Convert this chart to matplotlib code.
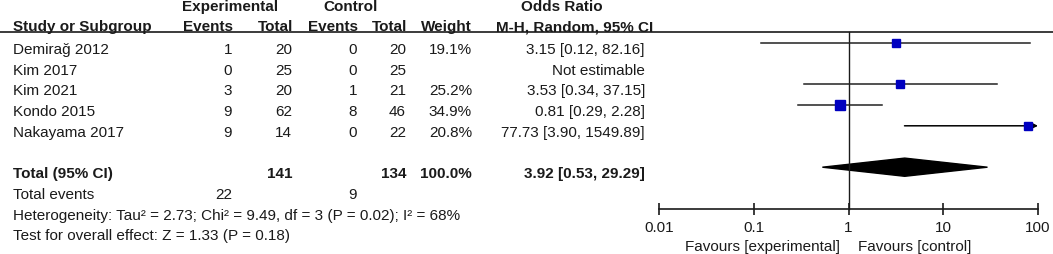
import numpy as np
import matplotlib.pyplot as plt
from matplotlib.patches import Polygon

plt.rcParams['font.family'] = ['Liberation Sans', 'DejaVu Sans']

# data
studies = ['Demirağ 2012', 'Kim 2017', 'Kim 2021', 'Kondo 2015', 'Nakayama 2017']
exp_events = [1, 0, 3, 9, 9]
exp_total = [20, 25, 20, 62, 14]
ctrl_events = [0, 0, 1, 8, 0]
ctrl_total = [20, 25, 21, 46, 22]
weights = [19.1, None, 25.2, 34.9, 20.8]
or_est = [3.15, None, 3.53, 0.81, 77.73]
ci_lo = [0.12, None, 0.34, 0.29, 3.90]
ci_hi = [82.16, None, 37.15, 2.28, 1549.89]

total_exp = 141
total_ctrl = 134
total_weight = 100.0
total_or = [3.92, 0.53, 29.29]
total_events = [22, 9]
heterogeneity = 'Heterogeneity: Tau² = 2.73; Chi² = 9.49, df = 3 (P = 0.02); I² = 68%'
overall = 'Test for overall effect: Z = 1.33 (P = 0.18)'
x_ticks = [0.01, 0.1, 1, 10, 100]
x_ticklabels = ['0.01', '0.1', '1', '10', '100']

W, H = 1053, 255
fs = 11
tc = '#1a1a1a'
row_h = 20.7


def rows_lim(row0_px):
    return ((H - row0_px) / row_h, -row0_px / row_h)


fig = plt.figure(figsize=(W / 100, H / 100), dpi=100)
ax = fig.add_axes([0, 0, 1, 1])
ax.set_xlim(0, W)
ax.set_ylim(*rows_lim(50))
ax.axis('off')

# column right edges (px)
c_ee, c_et, c_ce, c_ct, c_w, c_or = 232, 292, 357, 406, 472, 645
hy1, hy2 = -2.08, -1.09


def txt(x, y, s, ha='left', bold=False):
    ax.text(x, y, s, fontsize=fs, color=tc, va='center', ha=ha,
            fontweight='bold' if bold else 'normal')


# headers
txt(182, hy1, 'Experimental', bold=True)
txt(323, hy1, 'Control', bold=True)
txt(562, hy1, 'Odds Ratio', ha='center', bold=True)
txt(13, hy2, 'Study or Subgroup', bold=True)
txt(233, hy2, 'Events', ha='right', bold=True)
txt(293, hy2, 'Total', ha='right', bold=True)
txt(358, hy2, 'Events', ha='right', bold=True)
txt(407, hy2, 'Total', ha='right', bold=True)
txt(472, hy2, 'Weight', ha='right', bold=True)
txt(653, hy2, 'M-H, Random, 95% CI', ha='right', bold=True)
ax.axhline(-17 / row_h, color=tc, lw=1.2)

# study rows
for i, s in enumerate(studies):
    txt(13, i, s)
    txt(c_ee, i, str(exp_events[i]), ha='right')
    txt(c_et, i, str(exp_total[i]), ha='right')
    txt(c_ce, i, str(ctrl_events[i]), ha='right')
    txt(c_ct, i, str(ctrl_total[i]), ha='right')
    if weights[i] is not None:
        txt(c_w, i, f'{weights[i]:.1f}%', ha='right')
        lab = f'{or_est[i]:.2f} [{ci_lo[i]:.2f}, {ci_hi[i]:.2f}]'
    else:
        lab = 'Not estimable'
    txt(c_or, i, lab, ha='right')

# total rows
tr = 6
txt(13, tr, 'Total (95% CI)', bold=True)
txt(c_et, tr, str(total_exp), ha='right', bold=True)
txt(c_ct, tr, str(total_ctrl), ha='right', bold=True)
txt(c_w, tr, f'{total_weight:.1f}%', ha='right', bold=True)
txt(c_or, tr, f'{total_or[0]:.2f} [{total_or[1]:.2f}, {total_or[2]:.2f}]', ha='right', bold=True)
txt(13, 7, 'Total events')
txt(c_ee, 7, str(total_events[0]), ha='right')
txt(c_ce, 7, str(total_events[1]), ha='right')
txt(13, 8, heterogeneity)
txt(13, 9, overall)

# forest panel
x0, x1 = 659, 1038
fx = fig.add_axes([x0 / W, 0, (x1 - x0) / W, 1])
fx.set_xscale('log')
fx.set_xlim(0.01, 100)
fx.set_ylim(*rows_lim(44))
fx.patch.set_alpha(0)
for sp in ['top', 'left', 'right']:
    fx.spines[sp].set_visible(False)
axis_y = (210 - 44) / row_h
fx.spines['bottom'].set_position(('data', axis_y))
fx.spines['bottom'].set_color(tc)
fx.spines['bottom'].set_linewidth(1.2)
fx.set_yticks([])
fx.set_xticks(x_ticks)
fx.set_xticklabels(x_ticklabels)
fx.xaxis.set_minor_locator(plt.NullLocator())
fx.tick_params(axis='x', direction='inout', length=8, width=1.2, color=tc,
               labelsize=fs, labelcolor=tc, pad=4)

fx.plot([1, 1], [(33 - 44) / row_h, axis_y], color=tc, lw=1)

for i in range(len(studies)):
    if or_est[i] is None:
        continue
    if ci_hi[i] > 100:
        fx.annotate('', xy=(100, i), xytext=(ci_lo[i], i), annotation_clip=False,
                    arrowprops=dict(arrowstyle='-|>', color='black', lw=1.1,
                                    mutation_scale=9, shrinkA=0, shrinkB=0))
    else:
        fx.plot([ci_lo[i], ci_hi[i]], [i, i], color='#222222', lw=1.1)
    fx.plot(or_est[i], i, marker='s', color='#0000c0', ms=1.2 * np.sqrt(weights[i]),
            ls='none', clip_on=False, zorder=3)

h = 0.44
dia = Polygon([(total_or[1], tr), (total_or[0], tr - h), (total_or[2], tr), (total_or[0], tr + h)],
              closed=True, color='black')
fx.add_patch(dia)

fav_y = (247 - 44) / row_h
fx.annotate('Favours [experimental]', xy=(1, fav_y), xytext=(-9, 0), textcoords='offset pixels',
            ha='right', va='center', fontsize=fs, color=tc)
fx.annotate('Favours [control]', xy=(1, fav_y), xytext=(9, 0), textcoords='offset pixels',
            ha='left', va='center', fontsize=fs, color=tc)

fig.savefig('out.png', dpi=100)
